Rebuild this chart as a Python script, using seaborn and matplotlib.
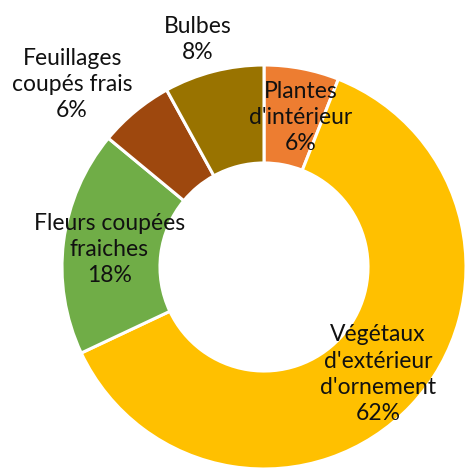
import matplotlib
matplotlib.use("Agg")
import matplotlib.pyplot as plt
import seaborn as sns

# Parts of the ornamental horticulture market (%)
categories = ["Plantes\nd'intérieur", "Végétaux\nd'extérieur\nd'ornement",
              "Fleurs coupées\nfraiches", "Feuillages\ncoupés frais", "Bulbes"]
shares = [6, 62, 18, 6, 8]
colors_hex = ["#ED7D31", "#FFC000", "#70AD47", "#9E480E", "#997300"]

sns.set_theme(style="white")
plt.rcParams["font.family"] = ["Lato", "DejaVu Sans"]
palette = sns.color_palette(colors_hex)

W, H = 467, 470
fig = plt.figure(figsize=(W / 100, H / 100), dpi=100)
cx, cy, R = 264, 267, 202
ax = fig.add_axes([(cx - R) / W, (H - cy - R) / H, 2 * R / W, 2 * R / H])

wedges, _ = ax.pie(shares, colors=palette, startangle=90, counterclock=False,
                   radius=1.0,
                   wedgeprops=dict(width=0.485, edgecolor="white", linewidth=2.2))
ax.set_xlim(-1, 1)
ax.set_ylim(-1, 1)
ax.axis("off")

# label anchor points (axes data units)
label_pos = [(0.18, 0.74), (0.565, -0.53), (-0.765, 0.085),
             (-0.95, 0.905), (-0.33, 1.125)]
for name, val, (lx, ly) in zip(categories, shares, label_pos):
    ax.text(lx, ly, f"{name}\n{val}%", ha="center", va="center",
            fontsize=16.5, color="#111111", linespacing=1.3)

fig.savefig("out.png", dpi=100, facecolor="white")
